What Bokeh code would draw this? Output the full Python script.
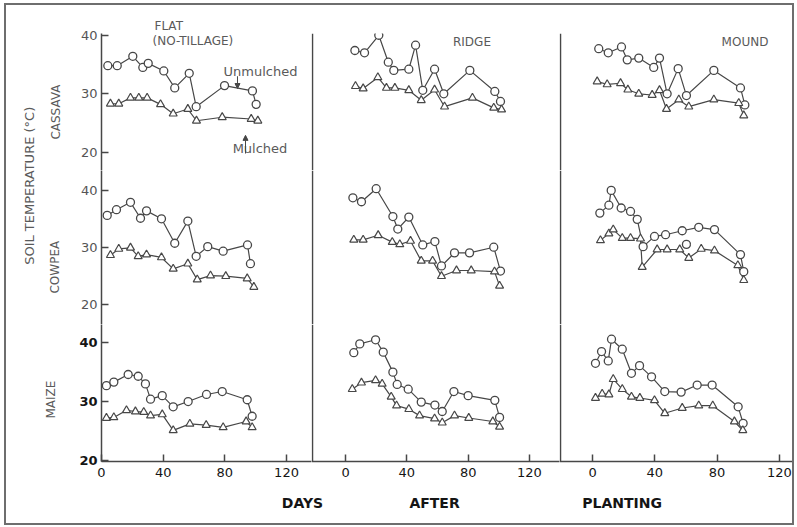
import math
from bokeh.plotting import figure
from bokeh.models import Range1d, FixedTicker, Label, Arrow, NormalHead, GridBox, Span
from bokeh.embed import file_html
from bokeh.resources import INLINE
from bokeh.core.properties import value

FONT = "DejaVu Sans"
INK = "#474747"
GREY_TEXT = "#5a5a5a"

# ---------------- data (days after planting, soil temperature degC) ----------------
crops = ["CASSAVA", "COWPEA", "MAIZE"]
tillage = ["FLAT", "RIDGE", "MOUND"]
y_ticks = [20, 30, 40]
x_ticks = [0, 40, 80, 120]

cassava_flat_unmulched_days = [4.1, 10.2, 20.3, 26.8, 30.3, 40.4, 47.5, 56.9, 61.4, 79.8, 97.9, 100.3]
cassava_flat_unmulched_temp = [34.8, 34.8, 36.4, 34.5, 35.2, 33.9, 31.0, 33.5, 27.8, 31.4, 30.5, 28.2]
cassava_flat_mulched_days = [5.8, 11.2, 18.8, 24.2, 29.6, 38.3, 46.5, 56.0, 61.6, 78.3, 97.1, 101.4]
cassava_flat_mulched_temp = [28.3, 28.3, 29.3, 29.3, 29.3, 28.2, 26.6, 27.4, 25.4, 26.0, 25.7, 25.4]

cassava_ridge_unmulched_days = [6.1, 12.4, 21.7, 27.9, 31.5, 41.3, 45.7, 50.4, 58.1, 64.1, 81.1, 97.4, 101.1]
cassava_ridge_unmulched_temp = [37.4, 37.0, 40.0, 35.4, 34.0, 34.2, 38.3, 30.6, 34.2, 30.0, 34.0, 30.4, 28.7]
cassava_ridge_mulched_days = [6.5, 11.5, 21.1, 26.7, 32.2, 41.3, 49.4, 58.1, 64.6, 82.8, 96.7, 101.8]
cassava_ridge_mulched_temp = [31.3, 30.9, 32.8, 31.0, 31.0, 30.6, 28.9, 30.7, 27.8, 29.3, 27.6, 27.3]

cassava_mound_unmulched_days = [4.0, 10.1, 18.6, 22.3, 29.7, 39.3, 43.0, 47.9, 55.0, 60.3, 77.9, 95.0, 97.8]
cassava_mound_unmulched_temp = [37.7, 37.0, 38.0, 35.8, 36.1, 34.5, 36.1, 30.0, 34.3, 29.7, 34.0, 31.0, 28.1]
cassava_mound_mulched_days = [3.0, 9.4, 18.0, 22.7, 29.7, 38.3, 43.0, 47.5, 55.4, 61.8, 77.9, 93.9, 97.1]
cassava_mound_mulched_temp = [32.1, 31.6, 31.8, 30.7, 30.0, 29.8, 30.6, 27.4, 29.0, 27.8, 29.0, 28.4, 26.3]

cowpea_flat_unmulched_days = [3.7, 9.7, 18.8, 25.3, 29.2, 38.9, 47.5, 56.0, 61.4, 68.9, 78.9, 94.7, 96.6]
cowpea_flat_unmulched_temp = [35.7, 36.7, 38.0, 35.2, 36.5, 35.1, 30.8, 34.7, 28.5, 30.2, 29.4, 30.5, 27.2]
cowpea_flat_mulched_days = [5.8, 11.2, 18.8, 23.8, 29.2, 38.9, 46.5, 56.0, 62.1, 70.7, 80.6, 94.5, 98.8]
cowpea_flat_mulched_temp = [28.7, 29.8, 30.0, 28.5, 28.8, 28.3, 26.3, 27.2, 24.4, 25.1, 25.0, 24.6, 23.1]

cowpea_ridge_unmulched_days = [4.8, 10.4, 20.0, 30.9, 34.1, 41.3, 50.4, 58.3, 62.6, 71.1, 80.9, 96.7, 101.1]
cowpea_ridge_unmulched_temp = [38.8, 38.1, 40.4, 35.5, 33.3, 35.4, 30.5, 31.1, 26.8, 29.1, 29.1, 30.1, 25.9]
cowpea_ridge_mulched_days = [5.4, 11.5, 21.3, 30.5, 35.4, 42.4, 49.4, 56.8, 62.6, 72.4, 82.0, 97.2, 100.5]
cowpea_ridge_mulched_temp = [31.4, 31.4, 32.2, 31.0, 30.6, 31.2, 27.7, 27.7, 25.0, 26.0, 26.0, 25.8, 23.3]

cowpea_mound_unmulched_days = [4.7, 10.5, 12.0, 18.4, 24.4, 28.7, 32.5, 39.8, 46.9, 57.6, 68.2, 78.3, 95.0, 97.1]
cowpea_mound_unmulched_temp = [36.1, 37.5, 40.1, 37.0, 36.4, 35.0, 30.2, 32.0, 32.3, 33.0, 33.6, 33.2, 28.8, 25.8]
cowpea_mound_unmulched_extra_days = [60.3]
cowpea_mound_unmulched_extra_temp = [30.6]
cowpea_mound_mulched_days = [5.1, 10.5, 13.3, 19.1, 24.4, 30.8, 31.9, 41.5, 47.9, 56.0, 61.8, 69.8, 78.3, 93.3, 97.1]
cowpea_mound_mulched_temp = [31.3, 32.5, 33.2, 31.7, 31.7, 31.6, 26.6, 29.7, 29.7, 29.7, 28.2, 29.8, 29.5, 26.9, 24.3]

maize_flat_unmulched_days = [3.2, 8.0, 17.3, 23.8, 28.5, 31.8, 39.4, 46.5, 56.2, 68.1, 78.3, 94.5, 97.7]
maize_flat_unmulched_temp = [32.7, 33.3, 34.6, 34.3, 33.0, 30.4, 31.0, 29.1, 30.0, 31.2, 31.7, 30.3, 27.5]
maize_flat_mulched_days = [3.2, 8.0, 16.2, 22.0, 27.4, 31.8, 39.4, 46.5, 57.3, 67.9, 78.9, 93.8, 97.7]
maize_flat_mulched_temp = [27.2, 27.3, 28.5, 28.3, 28.2, 27.6, 27.8, 25.1, 26.2, 26.0, 25.6, 26.6, 25.6]

maize_ridge_unmulched_days = [5.4, 9.3, 19.6, 24.6, 30.9, 33.7, 40.9, 49.4, 58.3, 63.1, 70.7, 80.0, 97.4, 100.5]
maize_ridge_unmulched_temp = [38.3, 39.8, 40.5, 38.4, 35.0, 32.9, 32.1, 29.9, 29.4, 28.3, 31.7, 31.0, 30.2, 27.3]
maize_ridge_mulched_days = [4.4, 10.4, 19.6, 23.9, 29.8, 33.3, 41.3, 48.3, 58.1, 63.1, 71.1, 80.4, 96.1, 100.5]
maize_ridge_mulched_temp = [32.1, 33.2, 33.6, 33.0, 30.8, 29.3, 28.7, 27.6, 27.1, 26.4, 27.6, 27.2, 26.6, 25.7]

maize_mound_unmulched_days = [1.9, 5.8, 10.1, 12.2, 19.1, 25.0, 30.2, 37.9, 46.4, 56.9, 67.2, 76.8, 93.5, 96.7]
maize_mound_unmulched_temp = [36.5, 38.5, 36.9, 40.6, 38.9, 34.8, 36.1, 34.2, 31.7, 31.6, 32.8, 32.8, 29.1, 26.3]
maize_mound_mulched_days = [1.9, 6.2, 10.5, 13.3, 19.1, 25.0, 30.4, 39.8, 46.4, 57.6, 68.2, 77.2, 91.1, 96.5]
maize_mound_mulched_temp = [30.6, 31.3, 31.2, 33.8, 32.1, 30.8, 30.6, 30.2, 28.0, 28.9, 29.3, 29.3, 26.6, 25.1]

panels = {
    (0, 0): (cassava_flat_unmulched_days, cassava_flat_unmulched_temp, cassava_flat_mulched_days, cassava_flat_mulched_temp),
    (0, 1): (cassava_ridge_unmulched_days, cassava_ridge_unmulched_temp, cassava_ridge_mulched_days, cassava_ridge_mulched_temp),
    (0, 2): (cassava_mound_unmulched_days, cassava_mound_unmulched_temp, cassava_mound_mulched_days, cassava_mound_mulched_temp),
    (1, 0): (cowpea_flat_unmulched_days, cowpea_flat_unmulched_temp, cowpea_flat_mulched_days, cowpea_flat_mulched_temp),
    (1, 1): (cowpea_ridge_unmulched_days, cowpea_ridge_unmulched_temp, cowpea_ridge_mulched_days, cowpea_ridge_mulched_temp),
    (1, 2): (cowpea_mound_unmulched_days, cowpea_mound_unmulched_temp, cowpea_mound_mulched_days, cowpea_mound_mulched_temp),
    (2, 0): (maize_flat_unmulched_days, maize_flat_unmulched_temp, maize_flat_mulched_days, maize_flat_mulched_temp),
    (2, 1): (maize_ridge_unmulched_days, maize_ridge_unmulched_temp, maize_ridge_mulched_days, maize_ridge_mulched_temp),
    (2, 2): (maize_mound_unmulched_days, maize_mound_unmulched_temp, maize_mound_mulched_days, maize_mound_mulched_temp),
}

# ---------------- layout geometry ----------------
LABEL_W = 64
COL_W = [241, 248, 233]
COL_BORDER_LEFT = [31, 0, 0]
COL_PX_PER_DAY = [1.542, 1.533, 1.558]
X_RANGES = [(0.0, 136.2), (-22.2, 139.6), (-21.2, 128.4)]
ROW_H = [165, 154, 161]
ROW_BORDER_TOP = [28, 0, 0]
ROW_BORDER_BOTTOM = [0, 0, 24]
BOTTOM_H = 38
Y_RANGES = [(16.9, 40.3), (16.5, 43.6), (19.8, 43.1)]
Y_LABEL_COLOR = ["#555555", "#555555", "#151515"]
Y_LABEL_STYLE = ["normal", "normal", "bold"]

figs = {}
for r in range(3):
    for c in range(3):
        p = figure(width=COL_W[c], height=ROW_H[r],
                   x_range=Range1d(*X_RANGES[c]), y_range=Range1d(*Y_RANGES[r]),
                   output_backend="svg", toolbar_location=None,
                   x_axis_location="below" if r == 2 else None,
                   y_axis_location="left" if c == 0 else None,
                   min_border_left=COL_BORDER_LEFT[c], min_border_right=0,
                   min_border_top=ROW_BORDER_TOP[r], min_border_bottom=ROW_BORDER_BOTTOM[r],
                   outline_line_color=None, background_fill_color="white",
                   border_fill_color="white")
        p.xgrid.grid_line_color = None
        p.ygrid.grid_line_color = None
        if c == 0:
            ax = p.yaxis[0]
            ax.ticker = FixedTicker(ticks=y_ticks)
            ax.major_tick_in = 7
            ax.major_tick_out = 0
            ax.minor_tick_line_color = None
            ax.axis_line_color = INK
            ax.axis_line_width = 1.5
            ax.major_tick_line_color = INK
            ax.major_tick_line_width = 1.5
            ax.major_label_standoff = 4
            ax.major_label_text_font = FONT
            ax.major_label_text_font_size = "13px"
            ax.major_label_text_font_style = Y_LABEL_STYLE[r]
            ax.major_label_text_color = Y_LABEL_COLOR[r]
        if r == 2:
            ax = p.xaxis[0]
            ax.ticker = FixedTicker(ticks=x_ticks)
            ax.major_tick_in = 7
            ax.major_tick_out = 0
            ax.minor_tick_line_color = None
            ax.axis_line_color = INK
            ax.axis_line_width = 1.5
            ax.major_tick_line_color = INK
            ax.major_tick_line_width = 1.5
            ax.major_label_standoff = 6
            ax.major_label_text_font = FONT
            ax.major_label_text_font_size = "13px"
            ax.major_label_text_color = "#151515"
        if c > 0:
            p.add_layout(Span(location=X_RANGES[c][0] + 1.0 / COL_PX_PER_DAY[c], dimension="height",
                              line_color=INK, line_width=1.5))
        ud, ut, md, mt = panels[(r, c)]
        p.line(ud, ut, line_color=INK, line_width=1.2)
        p.line(md, mt, line_color=INK, line_width=1.2)
        p.scatter(ud, ut, marker="circle", size=8, fill_color="white", line_color=INK, line_width=1.3)
        p.scatter(md, mt, marker="triangle", size=8, fill_color="white", line_color=INK, line_width=1.2)
        figs[(r, c)] = p

figs[(1, 2)].scatter(cowpea_mound_unmulched_extra_days, cowpea_mound_unmulched_extra_temp, marker="circle",
                     size=8, fill_color="white", line_color=INK, line_width=1.3)

# panel titles and annotations
def add_label(p, x, y, text, align="center", size="12px", color=GREY_TEXT, style="normal"):
    p.add_layout(Label(x=x, y=y, text=text, text_align=align, text_baseline="middle",
                       text_font=FONT, text_font_size=size, text_color=color, text_font_style=style))

t = figs[(0, 0)].title
t.text = "FLAT"
t.align = "left"
t.offset = 53
t.standoff = 1
t.text_font = FONT
t.text_font_size = "12px"
t.text_font_style = "normal"
t.text_color = GREY_TEXT

add_label(figs[(0, 0)], 33.1, 38.95, "(NO-TILLAGE)", align="left")
add_label(figs[(0, 1)], 82.5, 38.83, "RIDGE")
add_label(figs[(0, 2)], 97.9, 38.83, "MOUND")
add_label(figs[(0, 0)], 103.1, 33.8, "Unmulched", size="13px")
add_label(figs[(0, 0)], 102.8, 20.7, "Mulched", size="13px")
figs[(0, 0)].add_layout(Arrow(x_start=88.2, y_start=33.0, x_end=88.2, y_end=30.9,
                              end=NormalHead(size=5, fill_color=INK, line_color=INK),
                              line_color=INK, line_width=1))
figs[(0, 0)].add_layout(Arrow(x_start=93.4, y_start=19.8, x_end=93.4, y_end=22.9,
                              end=NormalHead(size=5, fill_color=INK, line_color=INK),
                              line_color=INK, line_width=1))

TOTAL_H = sum(ROW_H) + BOTTOM_H
TOP = 5
LEFT = 6

# left label strip (coordinates are page pixels)
lab = figure(width=LABEL_W, height=TOTAL_H, x_range=Range1d(LEFT, LEFT + LABEL_W),
             y_range=Range1d(TOP + TOTAL_H, TOP),
             output_backend="svg", toolbar_location=None, x_axis_location=None, y_axis_location=None,
             min_border=0, outline_line_color=None, background_fill_color="white", border_fill_color="white")
lab.xgrid.grid_line_color = None
lab.ygrid.grid_line_color = None
left_texts = [("SOIL TEMPERATURE (\u00b0C)", 29, 166, "13px"),
              ("CASSAVA", 55, 88, "12px"),
              ("COWPEA", 54, 252, "12px"),
              ("MAIZE", 50, 392, "12px")]
for txt, x, y, s in left_texts:
    lab.text(x=[x], y=[y], text=[txt], angle=math.pi / 2, text_align="center", text_baseline="middle",
             text_font=value(FONT), text_font_size=value(s), text_color=GREY_TEXT)

# bottom label strip (coordinates are page pixels)
x0 = LEFT + LABEL_W
bot = figure(width=sum(COL_W), height=BOTTOM_H, x_range=Range1d(x0, x0 + sum(COL_W)),
             y_range=Range1d(TOP + TOTAL_H, TOP + TOTAL_H - BOTTOM_H),
             output_backend="svg", toolbar_location=None, x_axis_location=None, y_axis_location=None,
             min_border=0, outline_line_color=None, background_fill_color="white", border_fill_color="white")
bot.xgrid.grid_line_color = None
bot.ygrid.grid_line_color = None
bot.text(x=[280, 418, 614], y=[502, 502, 502], text=["DAYS", "AFTER", "PLANTING"],
         text_align="center", text_baseline="middle", text_font=value(FONT),
         text_font_size=value("14px"), text_font_style="bold", text_color="#151515")

children = [(lab, 0, 0, 4, 1)]
for r in range(3):
    for c in range(3):
        children.append((figs[(r, c)], r, c + 1))
children.append((bot, 3, 1, 1, 3))

grid = GridBox(children=children, spacing=0,
               styles={"border": "2px solid #6e6e6e", "background-color": "white",
                       "margin": "3px 0px 0px 4px"})

open("out.html", "w").write(file_html(grid, INLINE))
